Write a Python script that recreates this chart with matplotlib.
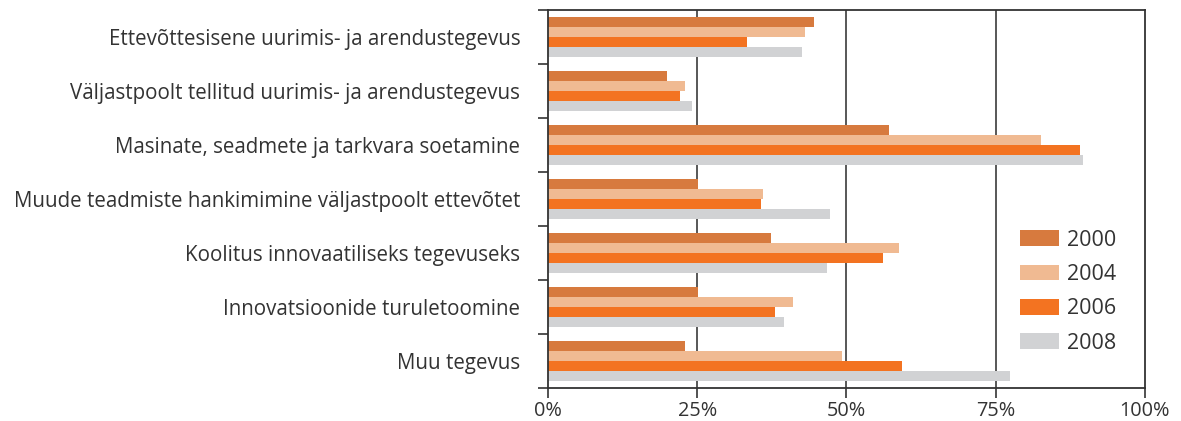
import numpy as np
import matplotlib
matplotlib.use("Agg")
import matplotlib.pyplot as plt
from matplotlib.ticker import FixedLocator, NullFormatter, FixedFormatter

plt.rcParams['font.family'] = ['Open Sans', 'DejaVu Sans']

categories = [
    "Ettevõttesisene uurimis- ja arendustegevus",
    "Väljastpoolt tellitud uurimis- ja arendustegevus",
    "Masinate, seadmete ja tarkvara soetamine",
    "Muude teadmiste hankimimine väljastpoolt ettevõtet",
    "Koolitus innovaatiliseks tegevuseks",
    "Innovatsioonide turuletoomine",
    "Muu tegevus",
]
years = ["2000", "2004", "2006", "2008"]
v2000 = [44.6, 19.9, 57.1, 25.1, 37.4, 25.1, 22.9]
v2004 = [43.0, 22.9, 82.5, 36.0, 58.8, 41.0, 49.2]
v2006 = [33.3, 22.1, 89.1, 35.6, 56.1, 38.0, 59.3]
v2008 = [42.5, 24.2, 89.6, 47.2, 46.7, 39.5, 77.4]
colors = ["#D77A3E", "#F0BA92", "#F37321", "#D1D2D4"]

series = [v2000, v2004, v2006, v2008]
n = len(categories)
centers = np.arange(n)
h = 0.185

fig = plt.figure(figsize=(11.81, 4.21), dpi=100)
ax = fig.add_axes([0.464, 0.078, 0.5055, 0.898])

for i, (vals, col, yr) in enumerate(zip(series, colors, years)):
    ax.barh(centers + (i - 1.5) * h, vals, height=h, color=col, label=yr)

ax.set_xlim(0, 100)
ax.set_ylim(n - 0.5, -0.5)

for x in [25, 50, 75]:
    ax.axvline(x, color="#4a4a4a", lw=1.3, zorder=0)

ax.set_xticks([0, 25, 50, 75, 100])
ax.set_xticklabels(["0%", "25%", "50%", "75%", "100%"])
ax.yaxis.set_major_locator(FixedLocator(np.arange(n + 1) - 0.5))
ax.yaxis.set_major_formatter(NullFormatter())
ax.yaxis.set_minor_locator(FixedLocator(centers))
ax.yaxis.set_minor_formatter(FixedFormatter(categories))
ax.tick_params(axis='y', which='major', length=7, width=1.2, color="#333333")
ax.tick_params(axis='y', which='minor', length=0, pad=20, labelsize=14.8, labelcolor="#333333")
ax.tick_params(axis='x', length=7, width=1.2, color="#333333", labelsize=14.3, labelcolor="#333333", pad=2)

for s in ax.spines.values():
    s.set_color("#333333")
    s.set_linewidth(1.3)

leg = ax.legend(loc="lower right", bbox_to_anchor=(0.985, 0.04), frameon=False,
                fontsize=15.5, handlelength=1.8, handleheight=0.75,
                labelspacing=0.62, handletextpad=0.4)
for t in leg.get_texts():
    t.set_color("#333333")

fig.savefig("out.png", dpi=100)
